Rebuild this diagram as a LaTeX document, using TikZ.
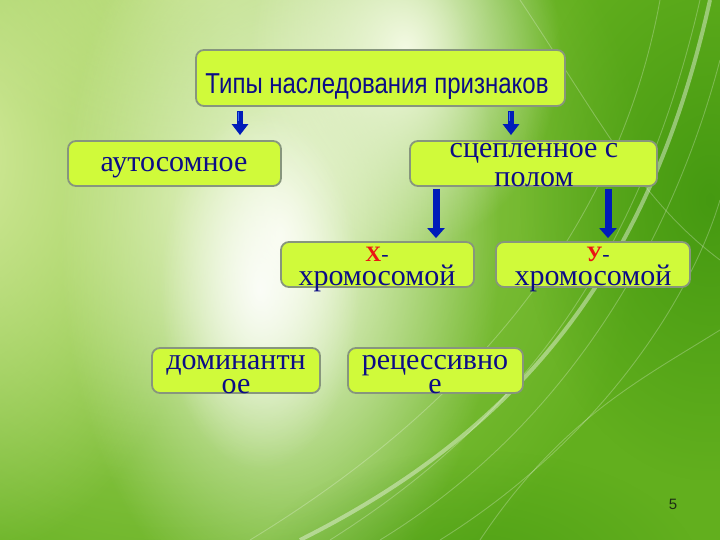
\documentclass[tikz,border=0pt]{standalone}
\usepackage{fontspec}
\setmainfont{Liberation Serif}
\newfontfamily\arialf{Liberation Sans}
\usetikzlibrary{arrows.meta,fadings}
\definecolor{boxfill}{RGB}{208,250,58}
\definecolor{boxline}{RGB}{135,150,125}
\definecolor{navytxt}{RGB}{12,12,135}
\definecolor{arrblue}{RGB}{0,28,185}
\definecolor{arrlight}{RGB}{60,110,240}
\definecolor{bgbase}{RGB}{98,175,30}
\definecolor{bgdark}{RGB}{62,148,14}
\definecolor{bgpale}{RGB}{244,250,228}
\definecolor{bgleft}{RGB}{212,234,155}
\definecolor{bgmid}{RGB}{170,215,100}
\definecolor{redx}{RGB}{235,20,20}
\definecolor{pagenum}{RGB}{30,45,20}
\tikzfading[name=glow, inner color=transparent!0, outer color=transparent!100]
\begin{document}
\begin{tikzpicture}[x=1pt,y=-1pt,
  box/.style={draw=boxline, line width=1.8pt, fill=boxfill, rounded corners=8pt, inner sep=0pt},
  txt/.style={text=navytxt, font=\fontsize{30}{30}\selectfont, anchor=base, inner sep=0pt},
  txttwo/.style={text=navytxt, font=\fontsize{30}{24}\selectfont, align=center, anchor=base, inner sep=0pt},
  bigarr/.style={draw=arrblue, line width=7pt, -{Triangle[width=17pt,length=10pt]}},
  smallarr/.style={draw=arrblue, line width=6pt, -{Triangle[width=16pt,length=11pt]}}]
\useasboundingbox (0,0) rectangle (720,540);
% background
\fill[bgbase] (0,0) rectangle (720,540);
\fill[bgmid, path fading=glow] (-300,-250) rectangle (650,650);
\fill[bgleft, path fading=glow] (-300,-250) rectangle (220,560);
\fill[bgleft, path fading=glow, opacity=0.7] (-100,-200) rectangle (500,150);
\fill[bgpale, path fading=glow] (60,-150) rectangle (500,620);
\fill[bgpale, path fading=glow] (250,-150) rectangle (560,250);
\fill[white, path fading=glow, opacity=0.85] (160,110) rectangle (360,470);
\fill[bgdark, path fading=glow, opacity=0.8] (520,-80) rectangle (900,480);
\fill[bgdark, path fading=glow, opacity=0.5] (250,450) rectangle (700,700);
% streaks
\begin{scope}[white, line width=0.9pt, opacity=0.25]
  \draw (330,540) .. controls (520,420) and (640,260) .. (700,0);
  \draw (380,540) .. controls (560,430) and (670,250) .. (720,60);
  \draw (250,540) .. controls (480,400) and (620,220) .. (660,0);
  \draw (440,540) .. controls (600,440) and (690,300) .. (720,200);
  \draw (520,0) .. controls (600,120) and (640,200) .. (720,260);
  \draw (480,540) .. controls (560,420) and (640,380) .. (720,330);
  \draw[line width=4pt, opacity=0.4] (300,540) .. controls (520,430) and (650,270) .. (710,0);
\end{scope}
% boxes
\node[box, minimum width=369pt, minimum height=56pt] (title) at (380.5,78) {};
\node[box, minimum width=213pt, minimum height=45pt] (auto) at (174.5,163.5) {};
\node[box, minimum width=247pt, minimum height=45pt] (spc) at (533.5,163.5) {};
\node[box, minimum width=193pt, minimum height=45pt] (xb) at (377.5,264.5) {};
\node[box, minimum width=194pt, minimum height=45pt] (yb) at (593,264.5) {};
\node[box, minimum width=168pt, minimum height=45pt] (dom) at (236,370.5) {};
\node[box, minimum width=175pt, minimum height=45pt] (rec) at (435.5,370.5) {};
% texts
\node[anchor=base, text=navytxt, inner sep=0pt, font=\arialf\fontsize{24}{24}\selectfont] (titletxt) at (377,94) {\scalebox{1}[1.2]{Типы наследования признаков}};
\node[txt] (autotxt) at (174,172) {аутосомное};
\node[txttwo, font=\fontsize{30}{29}\selectfont] (spctxt) at (534,187) {сцепленное с\\полом};
\node[txttwo] (xtxt) at (377,285) {{\fontsize{22}{22}\selectfont\textcolor{redx}{\textbf{Х}}-}\\хромосомой};
\node[txttwo] (ytxt) at (593,285) {{\fontsize{22}{22}\selectfont\hspace*{10pt}\textcolor{redx}{\textbf{У}}-}\\хромосомой};
\node[txttwo] (domtxt) at (236,393) {доминантн\\ое};
\node[txttwo] (rectxt) at (435,393) {рецессивно\\е};
\node[anchor=base, inner sep=0pt, text=pagenum, font=\arialf\fontsize{15}{15}\selectfont] (pnum) at (673,509) {5};
% connectors
\coordinate (c1) at (240,0);
\coordinate (c2) at (511,0);
\coordinate (c3) at (436,0);
\coordinate (c4) at (608,0);
\draw[smallarr] ([yshift=-4pt]title.south -| c1) -- ([yshift=5pt]auto.north -| c1);
\draw[smallarr] ([yshift=-4pt]title.south -| c2) -- ([yshift=5pt]spc.north -| c2);
\draw[arrlight, line width=1.5pt] ([yshift=-5pt,xshift=-1.5pt]title.south -| c1) -- ([yshift=19pt,xshift=-1.5pt]auto.north -| c1);
\draw[arrlight, line width=1.5pt] ([yshift=-5pt,xshift=-1.5pt]title.south -| c2) -- ([yshift=19pt,xshift=-1.5pt]spc.north -| c2);
\draw[bigarr] ([yshift=-2pt]spc.south -| c3) -- ([yshift=3pt]xb.north -| c3);
\draw[bigarr] ([yshift=-2pt]spc.south -| c4) -- ([yshift=3pt]yb.north -| c4);
\end{tikzpicture}
\end{document}
